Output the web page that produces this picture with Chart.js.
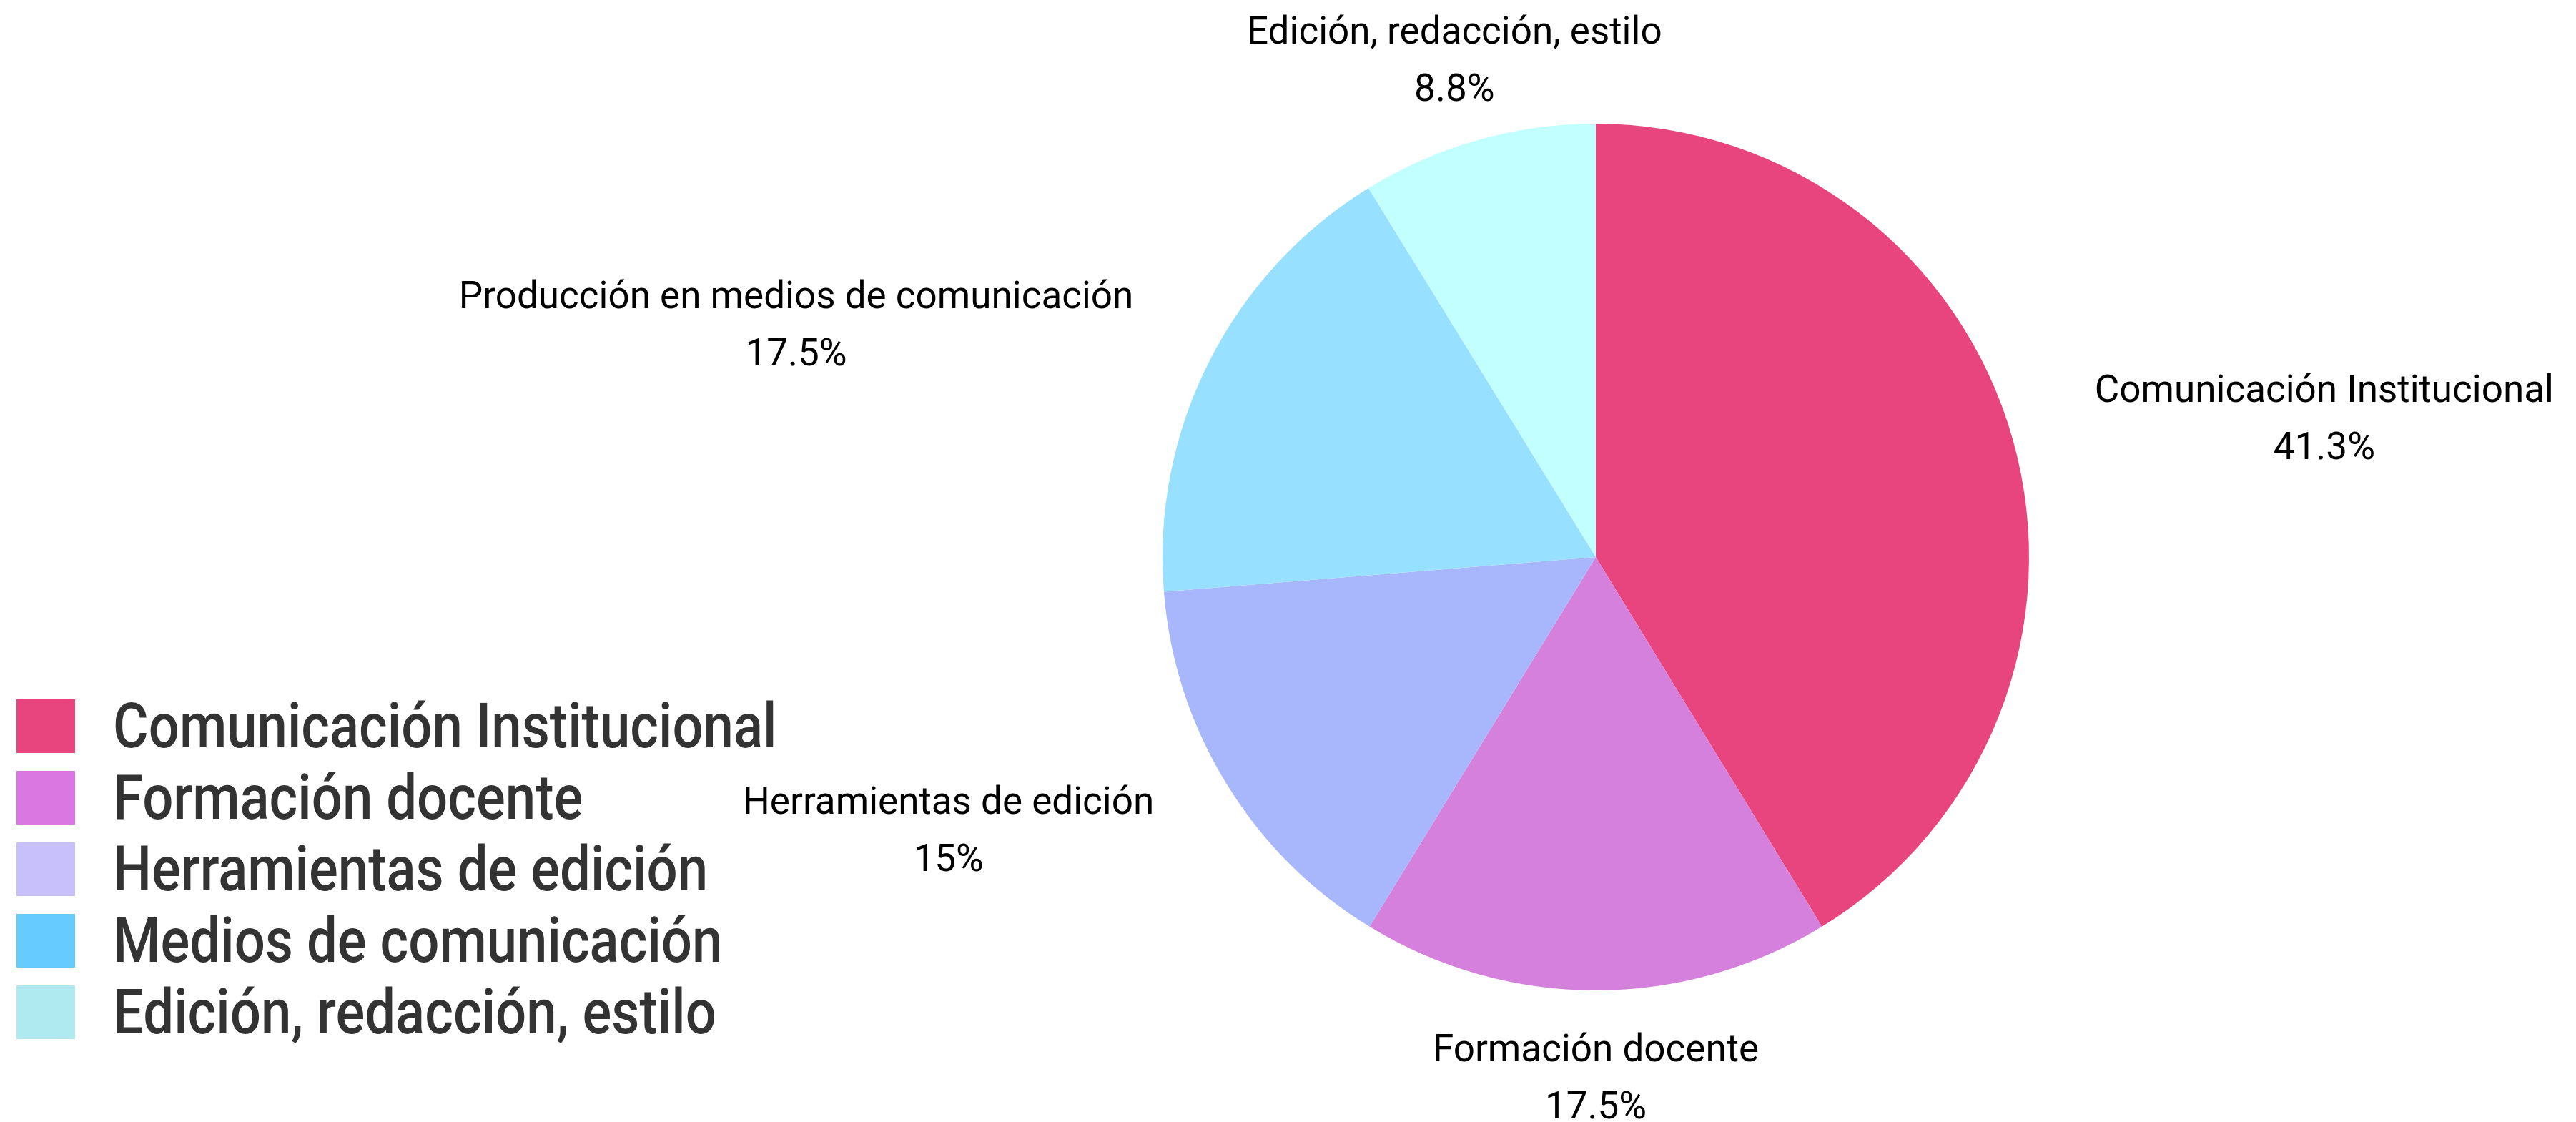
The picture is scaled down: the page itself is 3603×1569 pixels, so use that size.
<!DOCTYPE html>
<html>
<head>
<meta charset="utf-8">
<script src="https://cdn.jsdelivr.net/npm/chart.js@4/dist/chart.umd.min.js"></script>
<style>
    html, body { margin: 0; padding: 0; background: #fff; }
    canvas { display: block; }
</style>
</head>
<body>
<canvas id="pieChart" width="3603" height="1569"></canvas>
<script>
// Data
const categories = ['Comunicación Institucional', 'Formación docente', 'Herramientas de edición', 'Producción en medios de comunicación', 'Edición, redacción, estilo'];
const legendLabels = ['Comunicación Institucional', 'Formación docente', 'Herramientas de edición', 'Medios de comunicación', 'Edición, redacción, estilo'];
const percentages = [41.3, 17.5, 15, 17.5, 8.8];
const sliceColors = ['#E8457E', '#D580DC', '#A8B6FC', '#98E0FF', '#C2FFFF'];
const legendColors = ['#E8457E', '#DB77E0', '#C8C0FA', '#66CCFF', '#AEEAF0'];

const labelFont = '400 53px Roboto, "Noto Sans", sans-serif';
const legendFont = '500 87px Roboto, "Noto Sans", sans-serif';

// Labels outside each slice: name + percentage, centred on each other
const outsideLabels = {
    id: 'outsideLabels',
    afterDatasetsDraw(chart) {
        const ctx = chart.ctx;
        const arcs = chart.getDatasetMeta(0).data;
        ctx.save();
        ctx.font = labelFont;
        ctx.fillStyle = '#000';
        ctx.textBaseline = 'alphabetic';
        ctx.textAlign = 'center';
        arcs.forEach((arc, i) => {
            const p = arc.getProps(['x', 'y', 'startAngle', 'endAngle', 'outerRadius'], true);
            const mid = (p.startAngle + p.endAngle) / 2;
            const r = p.outerRadius + 119;
            const ax = p.x + Math.cos(mid) * r;
            const ay = p.y + Math.sin(mid) * r;
            const c = Math.cos(mid);
            const pct = percentages[i] + '%';
            const w = Math.max(ctx.measureText(categories[i]).width, ctx.measureText(pct).width);
            let cx = ax;
            if (Math.abs(c) >= 0.5) cx = c > 0 ? ax + w / 2 : ax - w / 2;
            ctx.fillText(categories[i], cx, ay - 20);
            ctx.fillText(pct, cx, ay + 60);
        });
        ctx.restore();
    }
};

// Legend at bottom left
const sideLegend = {
    id: 'sideLegend',
    afterDraw(chart) {
        const ctx = chart.ctx;
        ctx.save();
        ctx.font = legendFont;
        ctx.textBaseline = 'alphabetic';
        ctx.textAlign = 'left';
        legendLabels.forEach((text, i) => {
            const cy = 1016 + i * 100;
            ctx.fillStyle = legendColors[i];
            ctx.fillRect(23, cy - 38, 82, 75);
            ctx.fillStyle = '#333333';
            ctx.save();
            ctx.translate(158, cy + 29);
            ctx.scale(0.875, 1);
            ctx.fillText(text, 0, 0);
            ctx.restore();
        });
        ctx.restore();
    }
};

const ctx = document.getElementById('pieChart').getContext('2d');
new Chart(ctx, {
    type: 'pie',
    data: {
        labels: categories,
        datasets: [{
            data: percentages,
            backgroundColor: sliceColors,
            borderWidth: 0,
            hoverOffset: 0,
            offset: 0
        }]
    },
    options: {
        responsive: false,
        animation: false,
        layout: {
            padding: { left: 1626, right: 765, top: 173, bottom: 184 }
        },
        plugins: {
            legend: { display: false },
            tooltip: { enabled: false }
        }
    },
    plugins: [outsideLabels, sideLegend]
});
</script>
</body>
</html>
